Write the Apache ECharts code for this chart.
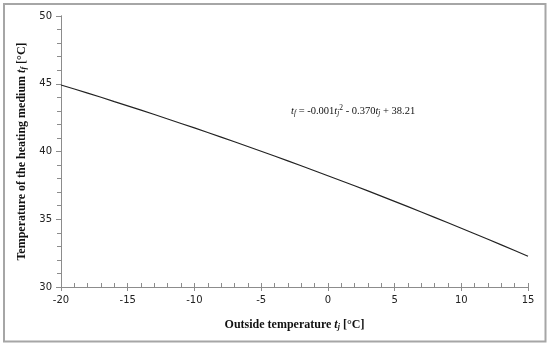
<!DOCTYPE html>
<html>
<head>
<meta charset="utf-8">
<script src="https://cdn.jsdelivr.net/npm/echarts@6/dist/echarts.min.js"></script>
<style>html,body{margin:0;padding:0;background:#fff}#c{width:550px;height:346px}</style>
</head>
<body>
<div id="c"></div>
<script>
// Data
const outsideTemp = [-20,-19,-18,-17,-16,-15,-14,-13,-12,-11,-10,-9,-8,-7,-6,-5,-4,-3,-2,-1,0,1,2,3,4,5,6,7,8,9,10,11,12,13,14,15];
const mediumTemp = [44.91,44.61,44.31,44.00,43.68,43.37,43.05,42.73,42.40,42.07,41.74,41.40,41.06,40.72,40.37,40.02,39.67,39.31,38.95,38.58,38.21,37.84,37.47,37.09,36.71,36.32,35.93,35.54,35.14,34.74,34.34,33.93,33.52,33.11,32.69,32.27];
const xTicks = [-20,-15,-10,-5,0,5,10,15];
const yTicks = [30,35,40,45,50];

const points = outsideTemp.map((x, i) => [x, mediumTemp[i]]);
const serif = '"Liberation Serif", "DejaVu Serif", serif';
const sans = '"DejaVu Sans", Verdana, sans-serif';

const chart = echarts.init(document.getElementById('c'), null, {renderer: 'canvas'});
const axisCommonX = {
  type: 'value', min: xTicks[0], max: xTicks[xTicks.length - 1], interval: 5,
  splitLine: {show: false},
  axisLine: {show: true, onZero: false, lineStyle: {color: '#8c8c8c', width: 1}}
};
const axisCommonY = {
  type: 'value', min: yTicks[0], max: yTicks[yTicks.length - 1], interval: 5,
  splitLine: {show: false},
  axisLine: {show: true, onZero: false, lineStyle: {color: '#8c8c8c', width: 1}}
};
chart.setOption({
  animation: false,
  backgroundColor: '#fff',
  grid: {left: 61, right: 22, top: 16, bottom: 59, containLabel: false},
  xAxis: [
    Object.assign({}, axisCommonX, {
      position: 'bottom',
      axisTick: {show: true, inside: false, length: 4, lineStyle: {color: '#8c8c8c'}},
      axisLabel: {show: true, color: '#222', fontFamily: sans, fontSize: 10, margin: 8},
      name: '{b|Outside temperature }{i|t}{s|j}{b| [°C]}',
      nameLocation: 'middle', nameGap: 31,
      nameTextStyle: {
        rich: {
          b: {fontFamily: serif, fontWeight: 'bold', fontSize: 12, color: '#111'},
          i: {fontFamily: serif, fontWeight: 'bold', fontStyle: 'italic', fontSize: 12, color: '#111'},
          s: {fontFamily: serif, fontWeight: 'bold', fontStyle: 'italic', fontSize: 8, color: '#111', padding: [5, 0, 0, 0]}
        }
      }
    }),
    Object.assign({}, axisCommonX, {
      position: 'bottom',
      axisTick: {show: true, inside: true, length: 4, lineStyle: {color: '#8c8c8c'}},
      minorTick: {show: true, splitNumber: 5, length: 4, lineStyle: {color: '#8c8c8c'}},
      axisLabel: {show: false}
    })
  ],
  yAxis: [
    Object.assign({}, axisCommonY, {
      position: 'left',
      axisTick: {show: true, inside: false, length: 5, lineStyle: {color: '#8c8c8c'}},
      axisLabel: {show: true, color: '#222', fontFamily: sans, fontSize: 10, margin: 9},
      name: '{b|Temperature of the heating medium }{i|t}{s|f}{b| [°C]}',
      nameLocation: 'middle', nameGap: 28, nameRotate: 90,
      nameTextStyle: {
        rich: {
          b: {fontFamily: serif, fontWeight: 'bold', fontSize: 12, color: '#111'},
          i: {fontFamily: serif, fontWeight: 'bold', fontStyle: 'italic', fontSize: 12, color: '#111'},
          s: {fontFamily: serif, fontWeight: 'bold', fontStyle: 'italic', fontSize: 8, color: '#111', padding: [5, 0, 0, 0]}
        }
      }
    }),
    Object.assign({}, axisCommonY, {
      position: 'left',
      axisTick: {show: false},
      minorTick: {show: true, splitNumber: 5, length: 4, lineStyle: {color: '#8c8c8c'}},
      axisLabel: {show: false}
    })
  ],
  series: [{
    type: 'line',
    xAxisIndex: 0, yAxisIndex: 0,
    data: points,
    showSymbol: false,
    smooth: false,
    lineStyle: {color: '#222', width: 1.2}
  }],
  graphic: [
    {
      type: 'rect', silent: true, z: 100,
      shape: {x: 4, y: 4, width: 541.5, height: 337.5},
      style: {fill: 'none', stroke: '#a6a6a6', lineWidth: 2}
    },
    {
      type: 'text', left: 291, top: 104, z: 100,
      style: {
        text: '{i|t}{s|f}{n| = -0.001}{i|t}{s|j}{p|2}{n| - 0.370}{i|t}{s|j}{n| + 38.21}',
        rich: {
          n: {fontFamily: serif, fontSize: 10.5, fill: '#111'},
          i: {fontFamily: serif, fontStyle: 'italic', fontSize: 10.5, fill: '#111'},
          s: {fontFamily: serif, fontStyle: 'italic', fontSize: 7.5, fill: '#111', padding: [5, 0, 0, 0]},
          p: {fontFamily: serif, fontSize: 7.5, fill: '#111', padding: [0, 0, 6, 0]}
        }
      }
    }
  ]
});
</script>
</body>
</html>
